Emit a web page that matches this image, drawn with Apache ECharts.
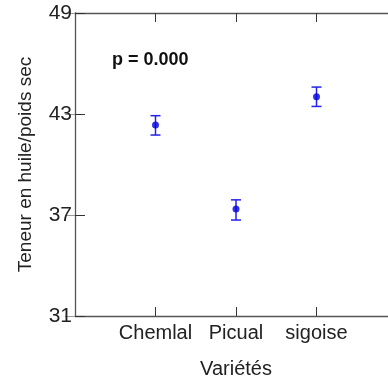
<!DOCTYPE html>
<html><head><meta charset="utf-8">
<script src="https://cdn.jsdelivr.net/npm/echarts@6/dist/echarts.min.js"></script>
<style>html,body{margin:0;padding:0;background:#fff;overflow:hidden}#c{width:388px;height:381px}</style>
</head><body><div id="c"></div>
<script>
const categories = ['Chemlal', 'Picual', 'sigoise'];
const means = [42.35, 37.35, 44.03];
const lower = [41.75, 36.7, 43.45];
const upper = [42.9, 37.9, 44.6];
const yTicks = [31, 37, 43, 49];

const chart = echarts.init(document.getElementById('c'));
const FONT = 'Liberation Sans';
const axisCol = '#555';
const pts = means.map((v, i) => [i + 1, v]);
const bars = means.map((v, i) => [i + 1, lower[i], upper[i]]);
const xCommon = {
  type: 'value', min: 0, max: 4, interval: 1,
  axisLine: { show: true, lineStyle: { color: axisCol, width: 1.3 } },
  axisTick: { show: true, inside: true, length: 9, lineStyle: { color: '#333' },
    customValues: [1, 2, 3] },
  splitLine: { show: false }
};
chart.setOption({
  animation: false,
  grid: { left: 75, top: 13, width: 322, height: 303, outerBoundsMode: 'none', containLabel: false },
  xAxis: [
    Object.assign({}, xCommon, {
      position: 'bottom',
      name: 'Variétés', nameLocation: 'middle', nameGap: 43,
      nameTextStyle: { fontFamily: FONT, fontSize: 20, color: '#222' },
      axisLabel: { show: true, fontFamily: FONT, fontSize: 20, color: '#222', margin: 7,
        customValues: [1, 2, 3],
        formatter: v => categories[v - 1] || '' }
    }),
    Object.assign({}, xCommon, { position: 'top', axisLabel: { show: false } })
  ],
  yAxis: [
    {
      type: 'value', min: yTicks[0], max: yTicks[yTicks.length - 1], interval: 6,
      position: 'left',
      name: 'Teneur en huile/poids sec', nameLocation: 'middle', nameGap: 40,
      nameTextStyle: { fontFamily: FONT, fontSize: 19, color: '#222' },
      axisLine: { show: true, lineStyle: { color: axisCol, width: 1.3 } },
      axisTick: { show: true, inside: true, length: 10, lineStyle: { color: '#333' } },
      axisLabel: { fontFamily: FONT, fontSize: 21, color: '#222', margin: 3 },
      splitLine: { show: false }
    },
    {
      type: 'value', min: yTicks[0], max: yTicks[yTicks.length - 1], interval: 6,
      position: 'right',
      axisLine: { show: false },
      axisTick: { show: true, inside: true, length: 10, lineStyle: { color: '#999' } },
      axisLabel: { show: false },
      splitLine: { show: false }
    }
  ],
  graphic: [{
    type: 'text', left: 112, top: 51,
    style: { text: 'p = 0.000', font: 'bold 18px "Liberation Sans"', fill: '#111' }
  }],
  series: [
    {
      type: 'custom',
      data: bars,
      renderItem: function (params, api) {
        const x = api.value(0);
        const lo = api.coord([x, api.value(1)]);
        const hi = api.coord([x, api.value(2)]);
        const w = 5;
        const st = { stroke: '#2222ee', lineWidth: 1.5 };
        return {
          type: 'group',
          children: [
            { type: 'line', shape: { x1: lo[0], y1: lo[1], x2: hi[0], y2: hi[1] }, style: st },
            { type: 'line', shape: { x1: lo[0] - w, y1: lo[1], x2: lo[0] + w, y2: lo[1] }, style: st },
            { type: 'line', shape: { x1: hi[0] - w, y1: hi[1], x2: hi[0] + w, y2: hi[1] }, style: st }
          ]
        };
      },
      z: 2
    },
    {
      type: 'scatter', data: pts, symbol: 'circle', symbolSize: 7,
      itemStyle: { color: '#0000dd' }, z: 3
    }
  ]
});
</script></body></html>
